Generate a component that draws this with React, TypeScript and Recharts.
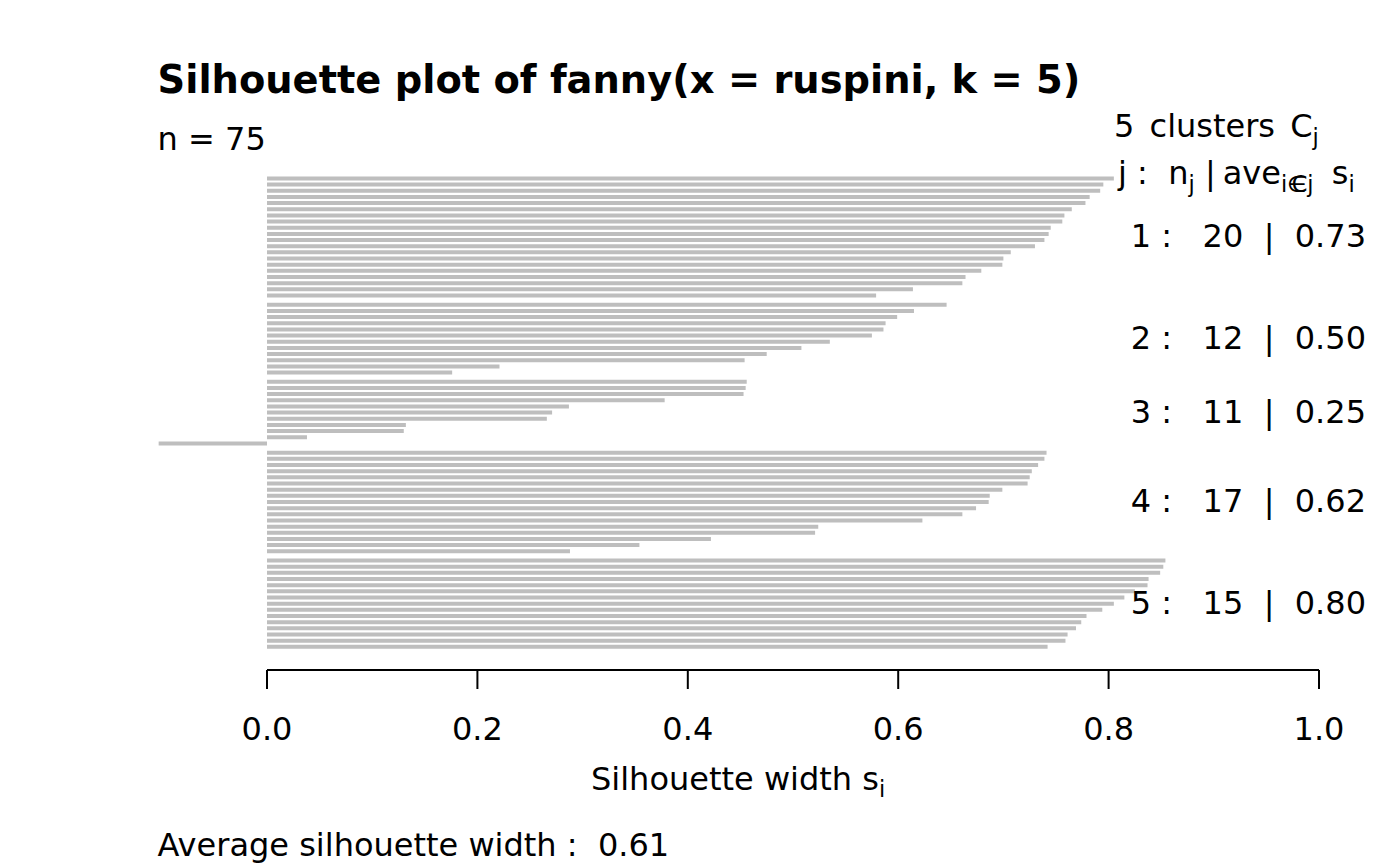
import React from 'react';
import { BarChart, Bar, XAxis, YAxis, ReferenceLine, ReferenceDot, Customized } from 'recharts';

// ---- data ----
const clusterIds = [1, 2, 3, 4, 5];
const cluster1 = [0.805, 0.795, 0.792, 0.782, 0.778, 0.765, 0.758, 0.756, 0.745, 0.743, 0.739, 0.73, 0.707, 0.7, 0.699, 0.679, 0.664, 0.661, 0.614, 0.579];
const cluster2 = [0.646, 0.615, 0.599, 0.588, 0.586, 0.575, 0.535, 0.508, 0.475, 0.454, 0.221, 0.176];
const cluster3 = [0.456, 0.455, 0.453, 0.378, 0.287, 0.271, 0.266, 0.132, 0.13, 0.038, -0.103];
const cluster4 = [0.741, 0.739, 0.733, 0.727, 0.725, 0.723, 0.699, 0.687, 0.686, 0.674, 0.661, 0.623, 0.524, 0.521, 0.422, 0.354, 0.288];
const cluster5 = [0.854, 0.852, 0.849, 0.838, 0.837, 0.825, 0.815, 0.805, 0.794, 0.779, 0.774, 0.769, 0.761, 0.759, 0.742];
const clusterSizes = [20, 12, 11, 17, 15];
const clusterAverages = [0.73, 0.5, 0.25, 0.62, 0.8];
const xTicks = [0, 0.2, 0.4, 0.6, 0.8, 1.0];
const overallAverage = 0.61;
const nObs = 75;
const titleText = 'Silhouette plot of fanny(x = ruspini, k = 5)';

// ---- layout helpers (barplot spacing: 0.5 bar between clusters) ----
const clusterGap = 0.5;
const clusterValues = [cluster1, cluster2, cluster3, cluster4, cluster5];
type Row = { pos: number; s: number; cluster: number };
const rows: Row[] = [];
const clusterCenters: number[] = [];
{
  let pos = 0;
  clusterValues.forEach((vals, ci) => {
    const ps: number[] = [];
    vals.forEach((v) => {
      rows.push({ pos, s: v, cluster: clusterIds[ci] });
      ps.push(pos);
      pos += 1;
    });
    clusterCenters.push(ps.reduce((a, b) => a + b, 0) / ps.length);
    pos += clusterGap;
  });
}

const FONT = "'DejaVu Sans', sans-serif";
const FS = 32;
const SUB = 22.4;

const StaticTexts = () => (
  <g fontFamily={FONT} fill="#000">
    <text x={157.6} y={93} fontSize={38.4} fontWeight="bold">{titleText}</text>
    <text x={157.6} y={150} fontSize={FS} style={{ whiteSpace: 'pre' }}>{`n = ${nObs}`}</text>
    <text x={1114} y={137} fontSize={FS} style={{ whiteSpace: 'pre' }}>
      <tspan>{String(clusterIds.length)}</tspan>
      <tspan dx={5}>{' clusters'}</tspan>
      <tspan dx={5}>{' C'}</tspan>
      <tspan fontSize={SUB} dy={8}>j</tspan>
    </text>
    <text x={1118} y={184} fontSize={FS} style={{ whiteSpace: 'pre' }}>
      <tspan>{'j :  n'}</tspan>
      <tspan fontSize={SUB} dy={8}>j</tspan>
      <tspan dy={-8}>{' |'}</tspan>
      <tspan dx={7}>{'ave'}</tspan>
      <tspan fontSize={SUB} dy={8}>{'i\u2208'}</tspan>
      <tspan fontSize={SUB} dx={-15}>{'Cj'}</tspan>
      <tspan dy={-8} dx={-2}>{'  s'}</tspan>
      <tspan fontSize={SUB} dy={8}>i</tspan>
    </text>
    <text x={591} y={790} fontSize={FS} style={{ whiteSpace: 'pre' }}>
      <tspan>{'Silhouette width s'}</tspan>
      <tspan fontSize={SUB} dy={7}>i</tspan>
    </text>
    <text x={157.6} y={856} fontSize={FS} style={{ whiteSpace: 'pre' }}>
      {`Average silhouette width :  ${overallAverage.toFixed(2)}`}
    </text>
  </g>
);

export default function App() {
  return (
    <div style={{ position: 'absolute', left: 0, top: 0, width: 1400, height: 866, background: '#fff' }}>
      <BarChart
        width={1400}
        height={866}
        data={rows}
        layout="vertical"
        margin={{ top: 160, right: 81, bottom: 0, left: 157.6 }}
      >
        <XAxis
          type="number"
          domain={[-0.104, 1]}
          allowDataOverflow
          ticks={xTicks}
          interval={0}
          tickFormatter={(v: number) => v.toFixed(1)}
          axisLine={false}
          tickLine={{ stroke: '#000', strokeWidth: 2 }}
          tickSize={19}
          tickMargin={28}
          height={196}
          tick={{ fontSize: FS, fill: '#000', fontFamily: FONT }}
        />
        <YAxis type="number" dataKey="pos" domain={[-3, 79.75]} hide allowDataOverflow />
        <Bar dataKey="s" fill="#BEBEBE" barSize={4} isAnimationActive={false} />
        <ReferenceLine
          segment={[{ x: 0, y: 79.75 }, { x: 1, y: 79.75 }]}
          stroke="#000"
          strokeWidth={2}
          ifOverflow="visible"
        />
        {clusterIds.map((id, i) => (
          <ReferenceDot
            key={id}
            x={1}
            y={clusterCenters[i]}
            r={0}
            ifOverflow="visible"
            shape={(p: any) => (
              <text
                x={p.cx + 47}
                y={p.cy + 10}
                textAnchor="end"
                fontSize={FS}
                fontFamily={FONT}
                fill="#000"
                style={{ whiteSpace: 'pre' }}
              >
                {`${id} :   ${clusterSizes[i]}  |  ${clusterAverages[i].toFixed(2)}`}
              </text>
            )}
          />
        ))}
        <Customized component={<StaticTexts />} />
      </BarChart>
    </div>
  );
}
